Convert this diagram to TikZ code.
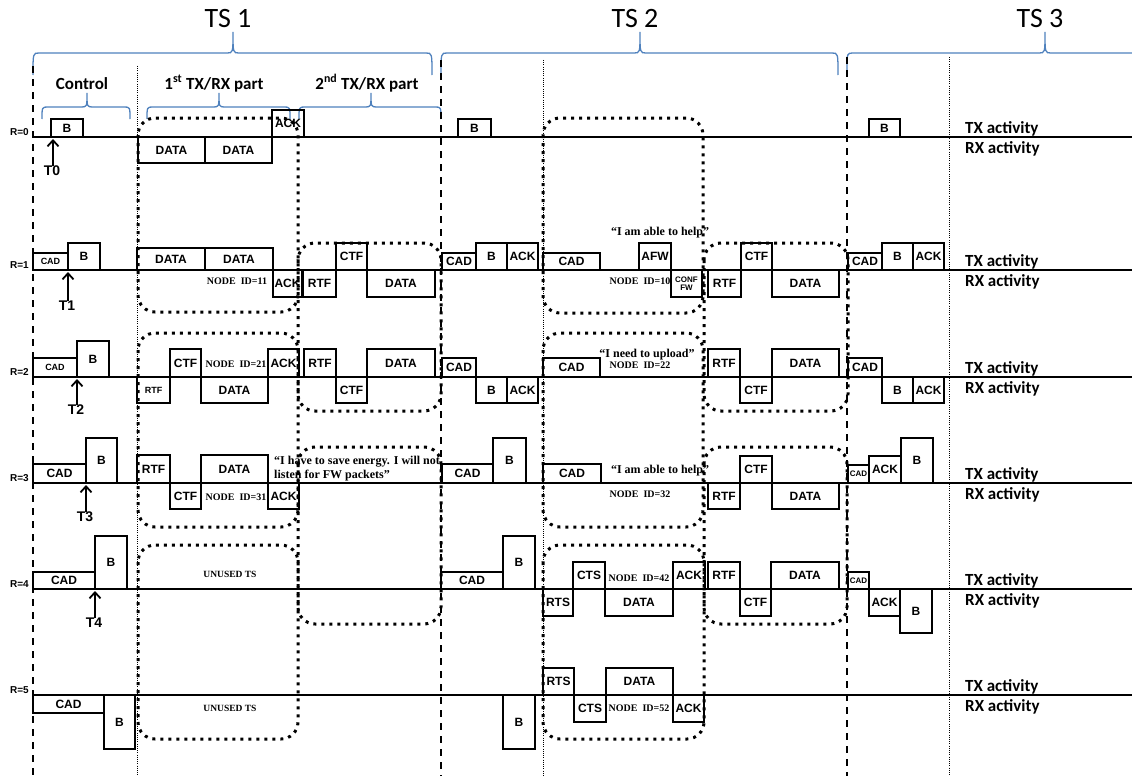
\documentclass[tikz,border=0pt]{standalone}
\usepackage{fontspec}
\newfontfamily\arialf{Liberation Sans}
\newfontfamily\calf{Carlito}
\newfontfamily\timesf{Liberation Serif}
\usetikzlibrary{arrows.meta}
\definecolor{braceblue}{RGB}{79,129,189}
\newcommand\pk[7][]{%
  \pgfmathsetmacro\pkW{#5-#3}%
  \pgfmathsetmacro\pkH{#6-#4}%
  \node[pkt,minimum width=\pkW pt,minimum height=\pkH pt,#1] (#2) at ({(#3+#5)/2},{(#4+#6)/2}) {#7};}
\newcommand\ubrace[6]{%
  \draw[bluebrace] (#1,#6) .. controls (#1,#4) .. ({#1+6},#4) -- ({#3-6},#4) .. controls (#3,#4) .. (#3,#5) .. controls (#3,#4) .. ({#3+6},#4) -- ({#2-6},#4) .. controls (#2,#4) .. (#2,#6);}
\begin{document}
\begin{tikzpicture}[x=1pt,y=-1pt,
  pkt/.style={draw,line width=1.7pt,inner sep=0pt,font=\arialf\bfseries\fontsize{12}{12}\selectfont},
  pksmall/.style={font=\arialf\bfseries\fontsize{9}{9}\selectfont},
  pktiny/.style={font=\arialf\bfseries\fontsize{8}{8}\selectfont},
  pkconf/.style={align=center,font=\arialf\bfseries\fontsize{8}{8.5}\selectfont},
  tline/.style={line width=1.8pt},
  grp/.style={line width=3pt,dash pattern=on 3pt off 5pt,rounded corners=17pt},
  tsdash/.style={line width=1.3pt,dash pattern=on 7pt off 6pt},
  finedot/.style={line width=0.9pt,dash pattern=on 1pt off 1.2pt},
  bluebrace/.style={draw=braceblue,line width=1.3pt},
  idtxt/.style={font=\timesf\bfseries\fontsize{10}{10}\selectfont,inner sep=0pt,anchor=base},
  qtxt/.style={font=\timesf\bfseries\fontsize{12}{13.5}\selectfont,inner sep=0pt,anchor=base},
  rlab/.style={font=\arialf\bfseries\fontsize{10}{10}\selectfont,inner sep=0pt,anchor=base east},
  act/.style={font=\calf\bfseries\fontsize{17}{17}\selectfont,inner sep=0pt,anchor=base west},
  tslab/.style={font=\calf\fontsize{28}{28}\selectfont,inner sep=0pt},
  partlab/.style={font=\calf\bfseries\fontsize{17}{17}\selectfont,inner sep=0pt,anchor=base},
  tlab/.style={font=\arialf\bfseries\fontsize{14}{14}\selectfont,inner sep=0pt},
  tarr/.style={line width=1.8pt,-{Straight Barb[length=6pt,width=11pt]}},
]
\useasboundingbox (0,0) rectangle (1132,776);

% ---- titles and braces
\node[tslab] (ts1) at (228,19) {TS 1};
\node[tslab] (ts2) at (635,19) {TS 2};
\node[tslab] (ts3) at (1040,19) {TS 3};
\ubrace{33}{432}{233}{53}{32}{75}
\ubrace{441}{838}{640}{53}{32}{75}
\draw[bluebrace] (847,70) .. controls (847,53) .. (853,53) -- (1039,53) .. controls (1045,53) .. (1045,32) .. controls (1045,53) .. (1051,53) -- (1132,53);
\node[partlab] (pctl) at (82,89) {Control};
\node[partlab] (pfirst) at (214,89) {1\textsuperscript{st} TX/RX part};
\node[partlab] (psecond) at (367,89) {2\textsuperscript{nd} TX/RX part};
\ubrace{42}{130}{87}{107}{93}{119}
\ubrace{147}{290}{219}{107}{93}{119}
\ubrace{299}{441}{371}{107}{93}{119}

% ---- vertical separators
\draw[tsdash] (33,66) -- (33,776);
\draw[tsdash] (441,60) -- (441,776);
\draw[tsdash] (847,57) -- (847,776);
\draw[finedot] (137,66) -- (137,776);
\draw[finedot] (543,60) -- (543,776);
\draw[finedot] (949,57) -- (949,776);

% ---- timelines
\foreach \L/\r in {137/0,270/1,377/2,483/3,589/4,695/5}{
  \draw[tline] (33,\L) -- (1132,\L);
  \node[rlab] (rl\r) at (29,{\L-2}) {R=\r};
  \node[act] (tx\r) at (965,{\L-4}) {TX activity};
  \node[act] (rx\r) at (965,{\L+16}) {RX activity};
}

% ---- dotted groups
\draw[grp] (138,118) rectangle (298,312);
\draw[grp] (138,333) rectangle (298,527);
\draw[grp] (138,545) rectangle (298,739);
\draw[grp] (298,243) rectangle (441,411);
\draw[grp] (298,447) rectangle (441,624);
\draw[grp] (543,118) rectangle (703,313);
\draw[grp] (543,333) rectangle (703,527);
\draw[grp] (543,545) rectangle (704,739);
\draw[grp] (704,243) rectangle (848,411);
\draw[grp] (704,447) rectangle (847,624);

% ---- R=0
\pk{r0b}{51}{119}{83}{137}{B}
\pk{r0d1}{138}{137}{205}{163}{DATA}
\pk{r0d2}{205}{137}{272}{163}{DATA}
\pk{r0ack}{272}{110}{304}{137}{ACK}
\pk{r0b2}{458}{119}{491}{137}{B}
\pk{r0b3}{869}{119}{900}{137}{B}

% ---- R=1
\pk[pksmall]{r1cad}{33}{253}{68}{270}{CAD}
\pk{r1b}{68}{243}{100}{270}{B}
\pk{r1d1}{137}{248}{205}{270}{DATA}
\pk{r1d2}{205}{248}{273}{270}{DATA}
\pk{r1ack}{273}{270}{302}{297}{ACK}
\pk{r1rtf}{303}{270}{336}{297}{RTF}
\pk{r1ctf}{336}{243}{367}{270}{CTF}
\pk{r1data}{367}{270}{435}{297}{DATA}
\pk{r1cad2}{442}{253}{476}{270}{CAD}
\pk{r1b2}{476}{243}{507}{270}{B}
\pk{r1ack2}{507}{243}{538}{270}{ACK}
\pk{r1cad3}{543}{253}{600}{270}{CAD}
\pk{r1afw}{639}{243}{671}{270}{AFW}
\pk[pkconf]{r1conf}{671}{270}{702}{297}{CONF\\FW}
\pk{r1rtf2}{708}{270}{741}{297}{RTF}
\pk{r1ctf2}{741}{243}{772}{270}{CTF}
\pk{r1data2}{772}{270}{839}{297}{DATA}
\pk{r1cad4}{848}{253}{882}{270}{CAD}
\pk{r1b3}{882}{243}{913}{270}{B}
\pk{r1ack3}{913}{243}{944}{270}{ACK}

% ---- R=2
\pk[pksmall]{r2cad}{33}{358}{77}{377}{CAD}
\pk{r2b}{77}{341}{109}{377}{B}
\pk[pksmall]{r2rtf}{137}{377}{170}{403}{RTF}
\pk{r2ctf}{170}{349}{201}{377}{CTF}
\pk{r2data}{201}{377}{268}{403}{DATA}
\pk{r2ack}{268}{349}{299}{377}{ACK}
\pk{r2rtf2}{304}{349}{336}{377}{RTF}
\pk{r2ctf2}{336}{377}{367}{403}{CTF}
\pk{r2data2}{367}{349}{435}{377}{DATA}
\pk{r2cad2}{442}{358}{476}{377}{CAD}
\pk{r2b2}{476}{377}{507}{403}{B}
\pk{r2ack2}{507}{377}{538}{403}{ACK}
\pk{r2cad3}{543}{358}{600}{377}{CAD}
\pk{r2rtf3}{708}{349}{740}{377}{RTF}
\pk{r2ctf3}{740}{377}{772}{403}{CTF}
\pk{r2data3}{772}{349}{839}{377}{DATA}
\pk{r2cad4}{848}{358}{882}{377}{CAD}
\pk{r2b3}{882}{377}{913}{403}{B}
\pk{r2ack3}{913}{377}{944}{403}{ACK}

% ---- R=3
\pk{r3cad}{33}{464}{86}{483}{CAD}
\pk{r3b}{86}{438}{117}{483}{B}
\pk{r3rtf}{137}{455}{170}{483}{RTF}
\pk{r3ctf}{170}{483}{201}{509}{CTF}
\pk{r3data}{201}{455}{268}{483}{DATA}
\pk{r3ack}{268}{483}{299}{509}{ACK}
\pk{r3cad2}{442}{464}{493}{483}{CAD}
\pk{r3b2}{493}{438}{526}{483}{B}
\pk{r3cad3}{543}{464}{601}{483}{CAD}
\pk{r3rtf2}{708}{483}{740}{509}{RTF}
\pk{r3ctf2}{740}{456}{772}{483}{CTF}
\pk{r3data2}{772}{483}{839}{509}{DATA}
\pk[pktiny]{r3cad4}{848}{465}{869}{483}{CAD}
\pk{r3ack2}{869}{456}{901}{483}{ACK}
\pk{r3b3}{901}{438}{933}{483}{B}

% ---- R=4
\pk{r4cad}{33}{572}{95}{589}{CAD}
\pk{r4b}{95}{536}{127}{589}{B}
\pk{r4cad2}{441}{572}{503}{589}{CAD}
\pk{r4b2}{503}{536}{535}{589}{B}
\pk{r4rts}{543}{589}{573}{616}{RTS}
\pk{r4cts}{573}{562}{605}{589}{CTS}
\pk{r4data}{605}{589}{673}{616}{DATA}
\pk{r4ack}{673}{562}{705}{589}{ACK}
\pk{r4rtf}{708}{562}{740}{589}{RTF}
\pk{r4ctf}{740}{589}{771}{616}{CTF}
\pk{r4data2}{771}{562}{839}{589}{DATA}
\pk[pktiny]{r4cad3}{848}{572}{869}{589}{CAD}
\pk{r4ack2}{869}{589}{900}{616}{ACK}
\pk{r4b3}{900}{589}{932}{633}{B}

% ---- R=5
\pk{r5cad}{33}{695}{104}{713}{CAD}
\pk{r5b}{104}{695}{135}{749}{B}
\pk{r5b2}{503}{695}{535}{749}{B}
\pk{r5rts}{543}{668}{574}{695}{RTS}
\pk{r5cts}{574}{695}{606}{722}{CTS}
\pk{r5data}{606}{668}{673}{695}{DATA}
\pk{r5ack}{673}{695}{704}{722}{ACK}

% ---- texts
\node[idtxt] (id11) at (237,284) {NODE\ \ ID=11};
\node[idtxt] (id10) at (640,284) {NODE\ \ ID=10};
\node[idtxt] (id21) at (236,367) {NODE\ \ ID=21};
\node[idtxt] (id22) at (640,368) {NODE\ \ ID=22};
\node[idtxt] (id31) at (236,500) {NODE\ \ ID=31};
\node[idtxt] (id32) at (640,497) {NODE\ \ ID=32};
\node[idtxt] (id42) at (639,581) {NODE\ \ ID=42};
\node[idtxt] (id52) at (639,711) {NODE\ \ ID=52};
\node[idtxt,font=\timesf\bfseries\fontsize{9.5}{9.5}\selectfont] (un4) at (230,577) {UNUSED TS};
\node[idtxt,font=\timesf\bfseries\fontsize{9.5}{9.5}\selectfont] (un5) at (230,711) {UNUSED TS};
\node[qtxt] (q1) at (660,235) {“I am able to help”};
\node[qtxt] (q2) at (647,357) {“I need to upload”};
\node[qtxt] (q3) at (660,473) {“I am able to help”};
\node[qtxt,align=left,anchor=north west] (q4) at (274,456) {“I have to save energy. I will not\\listen for FW packets”};

% ---- time marks
\node[tlab] (t0) at (52,171) {T0};
\coordinate (t0h) at (53,139);
\draw[tarr] (t0.north -| t0h) -- (t0h);
\node[tlab] (t1) at (67,306) {T1};
\coordinate (t1h) at (68,272);
\draw[tarr] (t1.north -| t1h) -- (t1h);
\node[tlab] (t2) at (76,410) {T2};
\coordinate (t2h) at (77,379);
\draw[tarr] (t2.north -| t2h) -- (t2h);
\node[tlab] (t3) at (85,517) {T3};
\coordinate (t3h) at (86,485);
\draw[tarr] (t3.north -| t3h) -- (t3h);
\node[tlab] (t4) at (94,623) {T4};
\coordinate (t4h) at (95,591);
\draw[tarr] (t4.north -| t4h) -- (t4h);
\end{tikzpicture}
\end{document}
